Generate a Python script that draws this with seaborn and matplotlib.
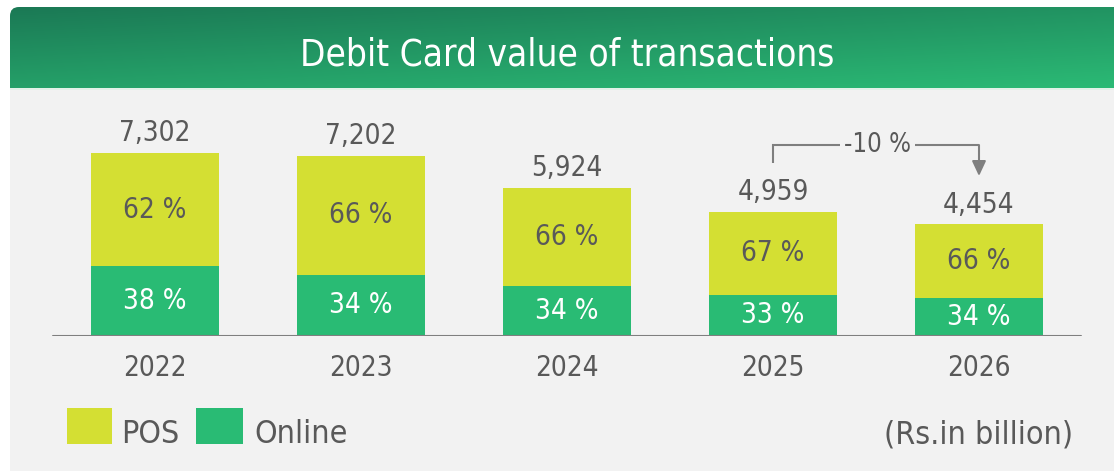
import numpy as np
import pandas as pd
import matplotlib
matplotlib.use("Agg")
import matplotlib.pyplot as plt
from matplotlib.patches import Rectangle, FancyBboxPatch
import seaborn as sns

# ---- data -------------------------------------------------------------
years = ["2022", "2023", "2024", "2025", "2026"]
totals = [7302, 7202, 5924, 4959, 4454]          # Rs. billion
pos_pct = [62, 66, 66, 67, 66]
online_pct = [38, 34, 34, 33, 34]
series_names = ["POS", "Online"]
title = "Debit Card value of transactions"
unit_note = "(Rs.in billion)"

# ---- style ------------------------------------------------------------
sns.set_theme(style="white")
plt.rcParams["font.family"] = ["DejaVu Sans"]
plt.rcParams["font.stretch"] = "condensed"

POS_C = "#d4df33"
ONL_C = "#29bb74"
TXT_C = "#595959"
LINE_C = "#7f7f7f"

W, H = 1114, 471
fig = plt.figure(figsize=(W / 100, H / 100), dpi=100)
fig.patch.set_facecolor("white")

# background canvas in pixel coordinates
bg = fig.add_axes([0, 0, 1, 1], zorder=0)
bg.set_xlim(0, W)
bg.set_ylim(H, 0)
bg.axis("off")

# header with diagonal green gradient and rounded top-left corner
gh, gw = 100, 300
v = np.linspace(0, 1, gh)[:, None]
u = np.linspace(0, 1, gw)[None, :]
t = np.clip(0.6 * v + 0.4 * u, 0, 1)
c0 = np.array([27, 121, 85]) / 255
c1 = np.array([43, 186, 117]) / 255
grad = c0[None, None, :] + (c1 - c0)[None, None, :] * t[:, :, None]
img = bg.imshow(grad, extent=(10, W, 88, 7), aspect="auto", zorder=1,
                interpolation="bilinear")
clip = FancyBboxPatch((10, 7), W + 20, 110,
                      boxstyle="round,pad=0,rounding_size=9",
                      transform=bg.transData, facecolor="none", edgecolor="none")
bg.add_patch(clip)
img.set_clip_path(clip)

bg.add_patch(Rectangle((10, 88), W, 2, facecolor="#e2f1e8", edgecolor="none", zorder=2))
bg.add_patch(Rectangle((10, 90), W, H - 90, facecolor="#f2f2f2", edgecolor="none", zorder=2))

bg.text(567, 66, title, color="white", fontsize=26.5, ha="center",
        va="baseline", zorder=3)

# legend
bg.add_patch(Rectangle((67, 408), 45, 36, facecolor=POS_C, edgecolor="none", zorder=3))
bg.text(121, 443, series_names[0], color=TXT_C, fontsize=23, va="baseline", zorder=3)
bg.add_patch(Rectangle((196, 408), 47, 36, facecolor=ONL_C, edgecolor="none", zorder=3))
bg.text(254, 443, series_names[1], color=TXT_C, fontsize=23, va="baseline", zorder=3)
bg.text(1073, 443, unit_note, color=TXT_C, fontsize=23, ha="right",
        va="baseline", zorder=3)

# ---- bar chart --------------------------------------------------------
df = pd.DataFrame({
    "year": years,
    "total": totals,
    "online": [t_ * p / 100 for t_, p in zip(totals, online_pct)],
})

px_per_unit = 183 / 7302
ax = fig.add_axes([0, (H - 336) / H, 1, 236 / H], zorder=5)
ax.patch.set_alpha(0)

sns.barplot(data=df, x="year", y="total", color=POS_C, saturation=1,
            width=0.626, linewidth=0, ax=ax)
sns.barplot(data=df, x="year", y="online", color=ONL_C, saturation=1,
            width=0.626, linewidth=0, ax=ax)

ax.set_xlim(-155 / 206, (W - 155) / 206)
ax.set_ylim(0, 236 / px_per_unit)
for s in ax.spines.values():
    s.set_visible(False)
ax.set_yticks([])
ax.set_xlabel("")
ax.set_ylabel("")
ax.tick_params(axis="x", length=0, pad=13, labelsize=20, labelcolor=TXT_C)
ax.axhline(0, xmin=53 / W, xmax=1081 / W, color=LINE_C, lw=1.5, zorder=6)

# totals above bars
ax.bar_label(ax.containers[0], labels=[f"{v_:,}" for v_ in totals],
             padding=4, fontsize=20, color=TXT_C)

# share labels inside segments
for i, (tot, pp, op) in enumerate(zip(totals, pos_pct, online_pct)):
    onl = tot * op / 100
    ax.text(i, onl + (tot - onl) / 2, f"{pp} %", ha="center", va="center",
            fontsize=20, color=TXT_C)
    ax.text(i, onl / 2, f"{op} %", ha="center", va="center",
            fontsize=20, color="white")

# change bracket between the last two years
change = (totals[4] - totals[3]) / totals[3] * 100
top = max(totals[3], totals[4]) + 2660
left_bottom = totals[3] + 1945
tip = totals[4] + 1930
ax.plot([3, 3, 3.325], [left_bottom, top, top], color=LINE_C, lw=1.5,
        solid_capstyle="butt", solid_joinstyle="miter")
ax.plot([3.69, 4], [top, top], color=LINE_C, lw=1.5, solid_capstyle="butt")
ax.annotate("", xy=(4, tip), xytext=(4, top),
            arrowprops=dict(arrowstyle="-|>,head_length=0.75,head_width=0.35",
                            color=LINE_C, lw=1.5, shrinkA=0, shrinkB=0))
ax.text(3.505, top, f"{change:.0f} %", ha="center", va="center",
        fontsize=18.5, color=TXT_C)

fig.savefig("out.png", dpi=100, facecolor="white")
